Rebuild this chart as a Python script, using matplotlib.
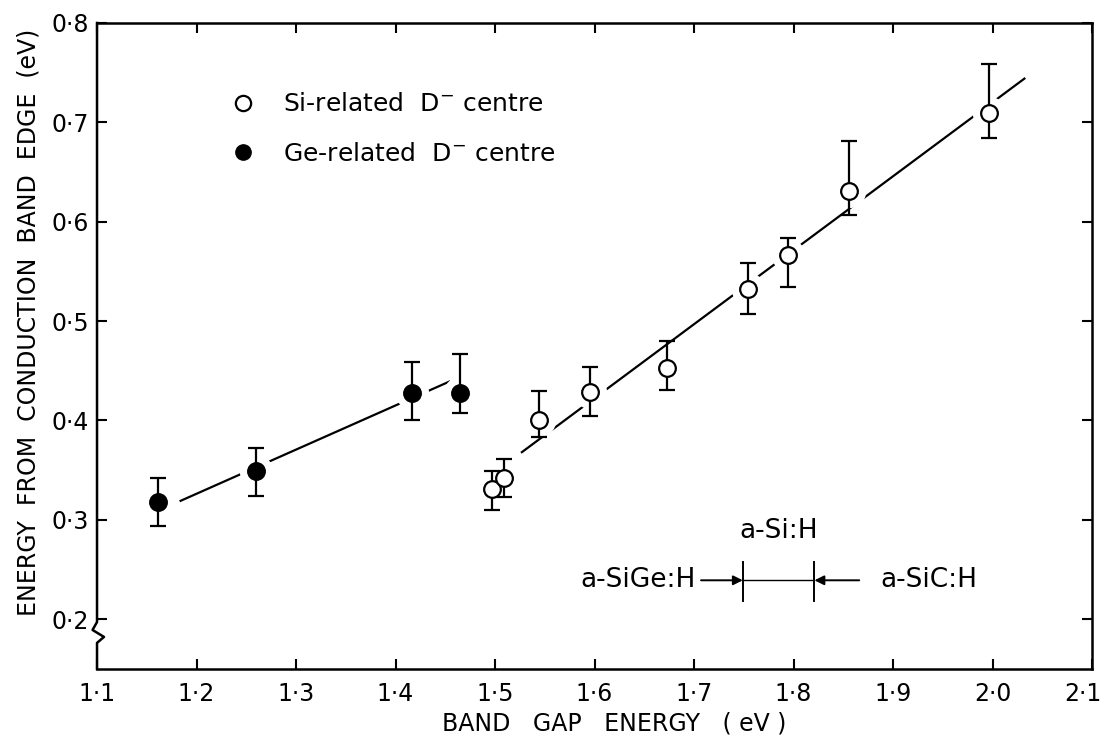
import matplotlib
matplotlib.use("Agg")
import matplotlib.pyplot as plt
from matplotlib.ticker import FuncFormatter
from matplotlib.transforms import ScaledTranslation

# Ge-related D- centre (filled)
ge_x = [1.161, 1.260, 1.417, 1.465]
ge_y = [0.318, 0.349, 0.428, 0.428]
ge_err_lo = [0.024, 0.025, 0.028, 0.021]
ge_err_hi = [0.024, 0.023, 0.031, 0.039]

# Si-related D- centre (open)
si_x = [1.497, 1.509, 1.544, 1.595, 1.673, 1.754, 1.794, 1.856, 1.996]
si_y = [0.331, 0.342, 0.400, 0.429, 0.453, 0.532, 0.566, 0.631, 0.709]
si_err_lo = [0.021, 0.019, 0.017, 0.025, 0.022, 0.025, 0.032, 0.024, 0.025]
si_err_hi = [0.018, 0.019, 0.030, 0.025, 0.027, 0.026, 0.018, 0.050, 0.050]

# guide lines drawn through each series
ge_fit_x = [1.184, 1.454]
ge_fit_y = [0.319, 0.439]
si_fit_x = [1.527, 2.032]
si_fit_y = [0.368, 0.744]

# band gap range of a-Si:H
asi_gap = [1.749, 1.821]
asi_level = 0.239

x_ticks = [1.1, 1.2, 1.3, 1.4, 1.5, 1.6, 1.7, 1.8, 1.9, 2.0, 2.1]
y_ticks = [0.2, 0.3, 0.4, 0.5, 0.6, 0.7, 0.8]

FS = 17
dot = FuncFormatter(lambda v, pos: f"{v:.1f}".replace(".", "\u00b7"))

fig = plt.figure(figsize=(11.05, 7.46), dpi=100, facecolor="white")
ax = fig.add_axes([0.0878, 0.1032, 0.9005, 0.866])

# guide lines, broken around the markers by a white halo
ax.plot(ge_fit_x, ge_fit_y, color="k", lw=1.6, zorder=1)
ax.plot(si_fit_x, si_fit_y, color="k", lw=1.6, zorder=1)
ax.plot(ge_x + si_x, ge_y + si_y, "o", ms=24, mfc="white", mec="none", zorder=1.5)

ax.errorbar(si_x, si_y, yerr=[si_err_lo, si_err_hi], fmt="o", ms=12,
            mfc="white", mec="k", mew=1.6, ecolor="k", elinewidth=1.6,
            capsize=5.5, capthick=2.2, color="k", zorder=2)
ax.errorbar(ge_x, ge_y, yerr=[ge_err_lo, ge_err_hi], fmt="o", ms=12,
            mfc="k", mec="k", mew=1.6, ecolor="k", elinewidth=1.6,
            capsize=5.5, capthick=2.2, color="k", zorder=2)

# legend proxies
h_si, = ax.plot([], [], "o", ms=11, mfc="white", mec="k", mew=1.6,
                label="Si-related  D$^{-}$ centre")
h_ge, = ax.plot([], [], "o", ms=11, mfc="k", mec="k",
                label="Ge-related  D$^{-}$ centre")
ax.legend(handles=[h_si, h_ge], loc="upper left",
          bbox_to_anchor=(0.1342, 0.8927), frameon=False, fontsize=18,
          borderpad=0, borderaxespad=0, handlelength=1.0,
          handletextpad=1.1, labelspacing=1.02)

# a-Si:H range marker
for xv in asi_gap:
    ax.plot([xv, xv], [asi_level - 0.021, asi_level + 0.018], color="k", lw=1.4)
ax.plot(asi_gap, [asi_level, asi_level], color="k", lw=1.0)
ax.annotate("", xy=(asi_gap[0], asi_level), xytext=(asi_gap[0] - 0.042, asi_level),
            arrowprops=dict(arrowstyle="-|>", color="k", lw=1.4,
                            mutation_scale=14, shrinkA=0, shrinkB=0))
ax.annotate("", xy=(asi_gap[1], asi_level), xytext=(asi_gap[1] + 0.045, asi_level),
            arrowprops=dict(arrowstyle="-|>", color="k", lw=1.4,
                            mutation_scale=14, shrinkA=0, shrinkB=0))
ax.text(asi_gap[0] - 0.047, asi_level, "a-SiGe:H", fontsize=19,
        ha="right", va="center")
ax.text(asi_gap[1] + 0.066, asi_level, "a-SiC:H", fontsize=19,
        ha="left", va="center")
ax.text(sum(asi_gap) / 2, asi_level + 0.05, "a-Si:H", fontsize=19,
        ha="center", va="center")

ax.set_xlim(1.1, 2.1)
ax.set_ylim(0.1497, 0.8)
ax.set_xticks(x_ticks)
ax.set_yticks(y_ticks)
ax.xaxis.set_major_formatter(dot)
ax.yaxis.set_major_formatter(dot)
ax.tick_params(direction="in", length=7, width=1.5, labelsize=FS,
               top=True, right=True)
ax.tick_params(axis="x", pad=9)
ax.tick_params(axis="y", pad=6)

# last x label sits at the page edge: nudge it left
last = ax.get_xticklabels()[-1]
last.set_transform(last.get_transform()
                   + ScaledTranslation(-9 / 100, 0, fig.dpi_scale_trans))

for side in ["top", "right", "bottom"]:
    ax.spines[side].set_linewidth(1.8)
ax.spines["left"].set_visible(False)

# left axis line with a break just below 0.2
ytr = ax.get_yaxis_transform()
ax.plot([0, 0, -0.0045, 0.007, 0, 0], [0.8, 0.197, 0.189, 0.182, 0.176, 0.1497],
        color="k", lw=1.8, transform=ytr, clip_on=False, zorder=5)

fig.text(0.5557, 0.0295, "BAND   GAP   ENERGY   ( eV )", fontsize=FS,
         ha="center", va="center")
fig.text(0.026, 0.568, "ENERGY  FROM  CONDUCTION  BAND  EDGE  (eV)",
         fontsize=FS, rotation=90, ha="center", va="center")

fig.savefig("out.png", dpi=100, facecolor="white")
